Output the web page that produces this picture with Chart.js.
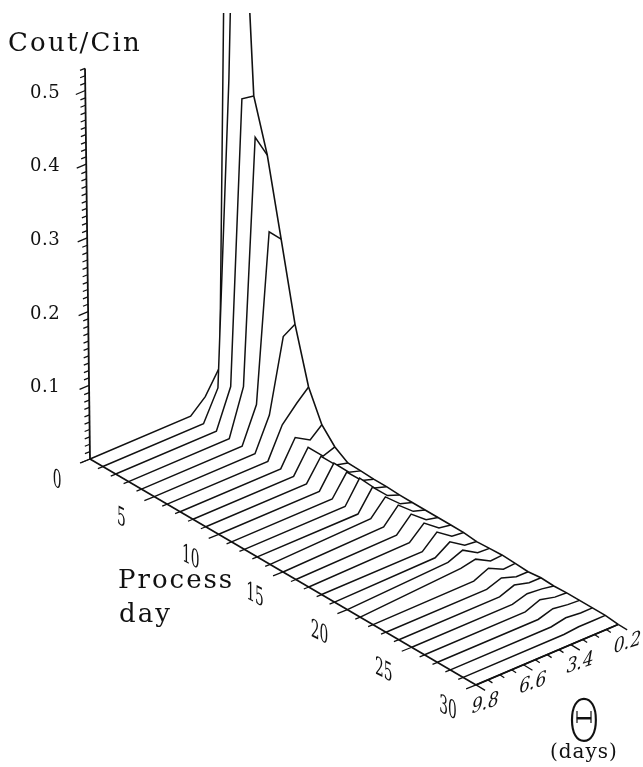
<!DOCTYPE html>
<html>
<head>
<meta charset="utf-8">
<title>Cout/Cin</title>
<script src="https://cdn.jsdelivr.net/npm/chart.js@4"></script>
<style>
  body { margin: 0; background: #fff; }
  canvas { display: block; }
</style>
</head>
<body>
<canvas id="myChart" width="643" height="767"></canvas>
<script>
const processDays = [0,1,2,3,4,5,6,7,8,9,10,11,12,13,14,15,16,17,18,19,20,21,22,23,24,25,26,27,28,29,30];
const thetas = [9.8, 3, 2, 1, 0.2];

// Cout/Cin per process day, one list for each theta
const coutTheta98 = [0,0,0,0,0,0,0,0,0,0,0,0,0,0,0,0,0,0,0,0,0,0,0,0,0,0,0,0,0,0,0];
const coutTheta3 = [0,0,0,0,0,0,0,0,0,0,0,0,0,0,.004,.003,.002,.002,0,.002,.006,.008,.001,0,0,0,0,0,0,0,0];
const coutTheta2 = [.018,.04,.052,.062,.048,.044,.041,.034,.031,.029,.03,.028,.03,.028,.025,.024,.022,.02,.018,.015,.014,.012,.01,.007,.0075,.006,.008,.006,.004,.002,0];
const coutTheta1 = [.05,.45,.434,.392,.274,.142,.062,.022,.0105,.0085,.009,.008,.008,.008,.007,.007,.006,.005,.004,.002,.002,.001,0,0,.002,.004,.003,.003,.002,.002,0];
const coutTheta02 = [.73,.92,.431,.361,.257,.152,.077,.036,.016,.0045,.004,.003,.003,.002,.002,.002,.002,.002,.002,0,.001,.002,.001,0,.002,.001,.002,.002,.002,.002,0];
const coutColumns = [coutTheta98, coutTheta3, coutTheta2, coutTheta1, coutTheta02];

const dayLabels = ['0','5','10','15','20','25','30'];
const thetaTicks = [9.8,9,8.2,7.4,6.6,5.8,5,4.2,3.4,2.6,1.8,1,0.2];
const thetaLabels = ['9.8','6.6','3.4','0.2'];
const coutTicks = [];
for (let i = 0; i <= 53; i++) coutTicks.push(i / 100);
const coutLabels = ['0.1','0.2','0.3','0.4','0.5'];

// oblique projection of (day, theta, value) to the chart's scales
function project(day, theta, value) {
  const t = 9.8 - theta;
  return {
    x: 90 + 12.87 * day + 14.8 * t - 9.4 * value,
    y: 459 + 7.53 * day - 6.3 * t - 737 * value
  };
}

const INK = '#111';
const datasets = [];

function lineSet(points, width, order) {
  return {
    data: points, showLine: true, pointRadius: 0, borderColor: INK,
    borderWidth: width, fill: false, order: order, tension: 0
  };
}

// one curve per day, front days drawn last, white fill hides what is behind
processDays.forEach(function (day, i) {
  const curve = thetas.map(function (th, k) { return project(day, th, coutColumns[k][i]); });
  const base = thetas.map(function (th) { return project(day, th, 0); });
  const set = lineSet(curve, 1.5, 100 - day);
  set.fill = '+1';
  set.backgroundColor = '#fff';
  datasets.push(set);
  datasets.push({ data: base, showLine: true, pointRadius: 0, borderColor: 'rgba(0,0,0,0)', borderWidth: 0, fill: false, order: 100 - day });
});

// outer edge along theta = 0.2
const edge = processDays.map(function (day, i) { return project(day, 0.2, coutTheta02[i]); });
datasets.push(lineSet(edge, 1.6, 5));

// axes
const BREAK = { x: NaN, y: NaN };
const dayAxis = [project(0, 9.8, 0), project(30, 9.8, 0)];
const thetaAxis = [project(30, 9.8, 0), project(30, 0.2, 0)];
const coutAxis = [project(0, 9.8, 0), project(0, 9.8, 0.53)];
datasets.push(lineSet(dayAxis, 1.7, 1));
datasets.push(lineSet(thetaAxis, 1.7, 1));
datasets.push(lineSet(coutAxis, 1.8, 1));

const dayTickPts = [];
processDays.forEach(function (day) {
  const p = project(day, 9.8, 0);
  const major = day % 5 === 0;
  dayTickPts.push(p, { x: p.x - (major ? 10 : 5), y: p.y + (major ? 4 : 2) }, BREAK);
});
datasets.push(lineSet(dayTickPts, 1.3, 1));

const thetaTickPts = [];
thetaTicks.forEach(function (th, i) {
  const p = project(30, th, 0);
  const major = i % 4 === 0;
  thetaTickPts.push(p, { x: p.x + (major ? 9 : 4.5), y: p.y + (major ? 5.5 : 3) }, BREAK);
});
datasets.push(lineSet(thetaTickPts, 1.3, 1));

const coutTickPts = [];
coutTicks.forEach(function (v, i) {
  const p = project(0, 9.8, v);
  const major = i % 10 === 0;
  coutTickPts.push(p, { x: p.x - (major ? 9.5 : 5), y: p.y + (major ? 4 : 2) }, BREAK);
});
datasets.push(lineSet(coutTickPts, 1.3, 1));

function text(ctx, str, x, y, font, spacing, m, align) {
  ctx.save();
  ctx.font = font;
  ctx.letterSpacing = (spacing || 0) + 'px';
  ctx.fillStyle = INK;
  ctx.textAlign = align || 'left';
  ctx.textBaseline = align ? 'middle' : 'alphabetic';
  ctx.translate(x, y);
  if (m) ctx.transform(m[0], m[1], m[2], m[3], 0, 0);
  ctx.fillText(str, 0, 0);
  ctx.restore();
}

const SERIF = '"DejaVu Serif"';

const labelsPlugin = {
  id: 'labels3d',
  afterDraw: function (chart) {
    const ctx = chart.ctx;
    text(ctx, 'Cout/Cin', 8, 51, '26px ' + SERIF, 2.2);
    text(ctx, 'Process', 118, 588, '26px ' + SERIF, 2);
    text(ctx, 'day', 119, 622, '26px ' + SERIF, 2);

    coutLabels.forEach(function (s, i) {
      const p = project(0, 9.8, (i + 1) / 10);
      text(ctx, s, 30, p.y + 7, '18px ' + SERIF, 0.5);
    });

    // day labels follow the axis with a vertical shear
    dayLabels.forEach(function (s, i) {
      const p = project(i * 5, 9.8, 0);
      text(ctx, s, p.x - (s.length === 1 ? 33 : 28), p.y + (s.length === 1 ? 22 : 24), '25px ' + SERIF, 0, [0.55, 0.28, 0, 1], 'center');
    });

    thetaLabels.forEach(function (s, i) {
      const p = project(30, thetaTicks[i * 4], 0);
      text(ctx, s, p.x + 9, p.y + 19, '19px ' + SERIF, 0, [0.9, -0.3, -0.2, 1.1], 'center');
    });

    // theta symbol of the original: tall oval, bar with two uprights
    text(ctx, 'Θ', 584, 725.5, '200 58px "DejaVu Sans"', 0, [0.72, 0, 0, 1], 'center');
    ctx.save();
    ctx.strokeStyle = INK;
    ctx.lineWidth = 1.2;
    ctx.beginPath();
    ctx.moveTo(577, 711); ctx.lineTo(577, 723);
    ctx.moveTo(591, 711); ctx.lineTo(591, 723);
    ctx.stroke();
    ctx.restore();

    text(ctx, '(days)', 550, 758, '20px ' + SERIF, 1);
  }
};

const config = {
  type: 'scatter',
  data: { datasets: datasets },
  options: {
    responsive: false,
    animation: false,
    layout: { padding: { top: 13 } },
    plugins: { legend: { display: false }, tooltip: { enabled: false }, title: { display: false } },
    scales: {
      x: { type: 'linear', display: false, min: 0, max: 643 },
      y: { type: 'linear', display: false, reverse: true, min: 13, max: 767 }
    }
  },
  plugins: [labelsPlugin]
};

const myChart = new Chart(document.getElementById('myChart'), config);
</script>
</body>
</html>
